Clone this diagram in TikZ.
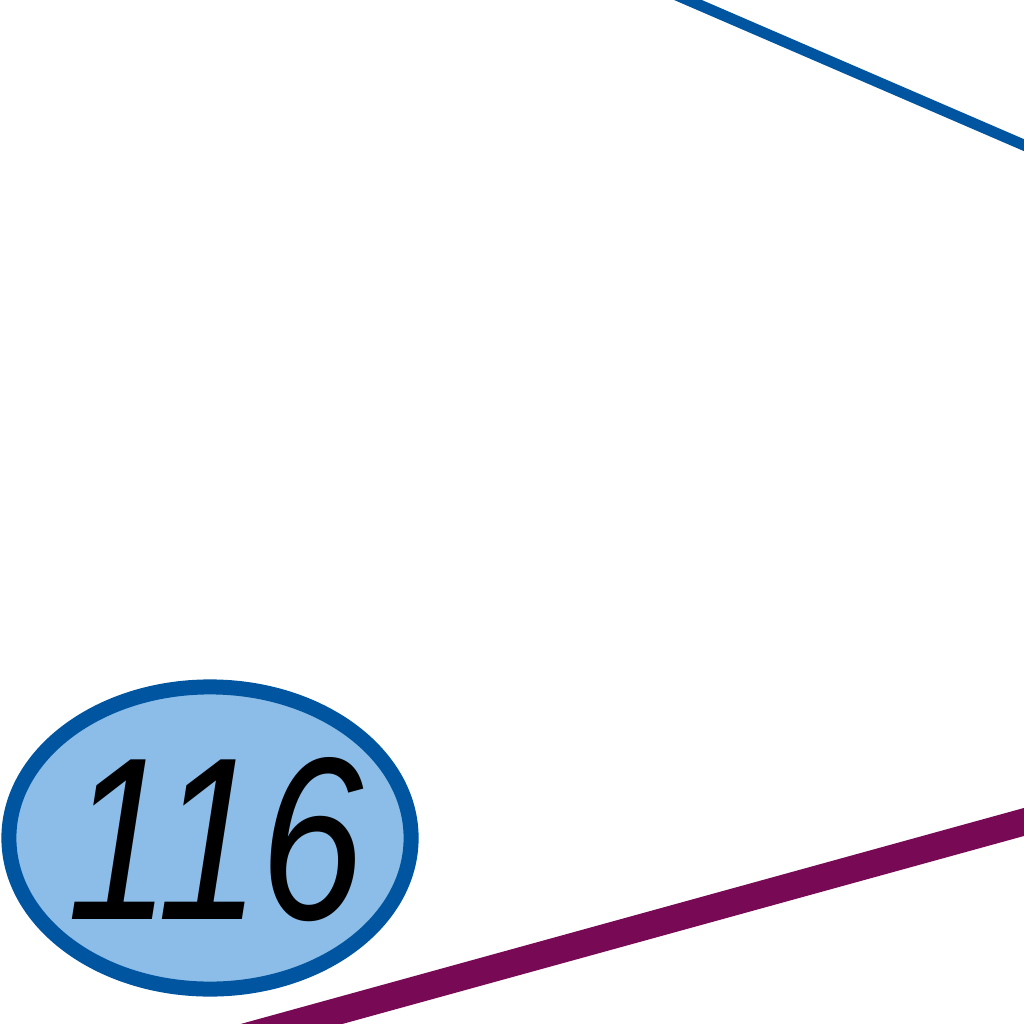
\documentclass[tikz,border=0pt]{standalone}
\usepackage{fontspec}
\setmainfont{Liberation Sans}
\usetikzlibrary{shapes.geometric}
\definecolor{nodeblue}{HTML}{0055A0}
\definecolor{nodefill}{HTML}{8CBDE8}
\definecolor{edgepurple}{HTML}{780A55}
\tikzset{
  circnode/.style={ellipse, draw=nodeblue, fill=nodefill, line width=0.15cm,
    minimum width=4.02cm, minimum height=3.02cm, inner sep=0pt,
    font=\itshape\fontsize{66}{66}\selectfont},
  blueedge/.style={draw=nodeblue, line width=0.11cm},
  purpleedge/.style={draw=edgepurple, line width=0.27cm},
}
\begin{document}
\begin{tikzpicture}[x=0.01cm,y=-0.01cm]
\useasboundingbox (0,0) rectangle (1024,1024);
\clip (0,0) rectangle (1024,1024);
\coordinate (b1) at (600,-38);
\coordinate (b2) at (1100,178);
\coordinate (p1) at (150,1063);
\coordinate (p2) at (1100,801);
\draw[blueedge] (b1) -- (b2);
\draw[purpleedge] (p1) -- (p2);
\node[circnode] (n116) at (210,838) {\smash{\makebox[0pt]{\hspace{0.12cm}\raisebox{-0.5\height}{\scalebox{0.8}[1]{116}}}}};
\end{tikzpicture}
\end{document}
